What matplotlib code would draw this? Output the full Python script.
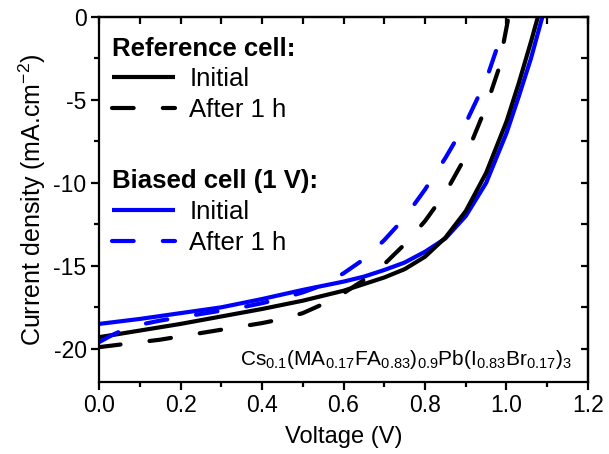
import matplotlib
matplotlib.use("Agg")
import matplotlib.pyplot as plt
from matplotlib.lines import Line2D

plt.rcParams['font.family'] = ['Liberation Sans', 'DejaVu Sans']
plt.rcParams['mathtext.default'] = 'regular'

# Data (Voltage in V, current density in mA/cm^2)
ref_init_v = [0, 0.05, 0.1, 0.2, 0.3, 0.4, 0.5, 0.55, 0.6, 0.65, 0.7, 0.75, 0.8, 0.85, 0.9, 0.95, 1.0, 1.03, 1.06, 1.077]
ref_init_j = [-19.3, -19.1, -18.9, -18.5, -18.05, -17.6, -17.1, -16.8, -16.5, -16.1, -15.7, -15.2, -14.45, -13.3, -11.7, -9.4, -6.3, -4.0, -1.5, 0]

ref_1h_v = [0, 0.05, 0.1, 0.15, 0.2, 0.25, 0.3, 0.35, 0.4, 0.45, 0.5, 0.55, 0.6, 0.65, 0.7, 0.75, 0.8, 0.85, 0.9, 0.95, 0.98, 1.005]
ref_1h_j = [-19.9, -19.75, -19.6, -19.45, -19.25, -19.05, -18.85, -18.65, -18.45, -18.2, -17.85, -17.3, -16.65, -15.85, -14.9, -13.7, -12.3, -10.6, -8.4, -5.4, -3.2, 0]

bias_init_v = [0, 0.05, 0.1, 0.2, 0.3, 0.4, 0.5, 0.55, 0.6, 0.65, 0.7, 0.75, 0.8, 0.85, 0.9, 0.95, 1.0, 1.03, 1.06, 1.088]
bias_init_j = [-18.5, -18.35, -18.2, -17.85, -17.5, -17.0, -16.45, -16.2, -15.95, -15.65, -15.25, -14.8, -14.15, -13.35, -12.0, -10.0, -7.0, -4.8, -2.5, 0]

bias_1h_v = [0, 0.03, 0.06, 0.1, 0.15, 0.2, 0.25, 0.3, 0.35, 0.4, 0.45, 0.5, 0.55, 0.6, 0.65, 0.7, 0.75, 0.8, 0.85, 0.9, 0.95, 0.99]
bias_1h_j = [-19.6, -19.2, -18.85, -18.55, -18.3, -18.1, -17.9, -17.7, -17.5, -17.25, -16.95, -16.6, -16.15, -15.45, -14.6, -13.45, -12.1, -10.4, -8.5, -6.4, -3.8, -0.9]

xticks = [0.0, 0.2, 0.4, 0.6, 0.8, 1.0, 1.2]
xminor = [0.1, 0.3, 0.5, 0.7, 0.9, 1.1]
yticks = [0, -5, -10, -15, -20]
yminor = [-2.5, -7.5, -12.5, -17.5]

BLUE = '#0000FF'
LW = 3.0
DASH = (5.2, 7.0)

fig = plt.figure(figsize=(6.09, 4.54), dpi=100)
ax = fig.add_axes([0.1626, 0.1586, 0.8029, 0.804])

ax.plot(bias_init_v, bias_init_j, color=BLUE, lw=LW, solid_capstyle='butt')
ax.plot(ref_init_v, ref_init_j, color='black', lw=LW, solid_capstyle='butt')
ax.plot(bias_1h_v, bias_1h_j, color=BLUE, lw=LW, dashes=DASH, dash_capstyle='round')
ax.plot(ref_1h_v, ref_1h_j, color='black', lw=LW, dashes=DASH, dash_capstyle='round')

ax.set_xlim(0, 1.2)
ax.set_ylim(-22, 0)
ax.set_xticks(xticks)
ax.set_xticklabels([f"{t:.1f}" for t in xticks])
ax.set_yticks(yticks)
ax.set_yticklabels([f"{t:d}" for t in yticks])
ax.set_xticks(xminor, minor=True)
ax.set_yticks(yminor, minor=True)

for s in ax.spines.values():
    s.set_linewidth(1.6)
ax.tick_params(which='major', direction='out', length=6, width=1.6, labelsize=16.5, pad=3)
ax.tick_params(which='minor', direction='out', length=3.5, width=1.6)

# mirror ticks (inward) on top and right
sx = ax.secondary_xaxis('top')
sx.set_xticks(xticks)
sx.set_xticks(xminor, minor=True)
sx.tick_params(which='both', direction='in', length=5, width=1.6, labeltop=False)
sy = ax.secondary_yaxis('right')
sy.set_yticks(yticks)
sy.set_yticks(yminor, minor=True)
sy.tick_params(which='both', direction='in', length=5, width=1.6, labelright=False)
sx.spines['top'].set_linewidth(1.6)
sy.spines['right'].set_linewidth(1.6)

ax.set_xlabel('Voltage (V)', fontsize=17, labelpad=6)
ax.set_ylabel('Current density (mA.cm$^{-2}$)', fontsize=18, labelpad=4)

ax.text(0.968, 0.046,
        'Cs$_{0.1}$(MA$_{0.17}$FA$_{0.83}$)$_{0.9}$Pb(I$_{0.83}$Br$_{0.17}$)$_3$',
        transform=ax.transAxes, ha='right', va='baseline', fontsize=15)

h1 = [Line2D([], [], color='black', lw=LW, solid_capstyle='butt'),
      Line2D([], [], color='black', lw=LW, dashes=DASH, dash_capstyle='round')]
h2 = [Line2D([], [], color=BLUE, lw=LW, solid_capstyle='butt'),
      Line2D([], [], color=BLUE, lw=LW, dashes=DASH, dash_capstyle='round')]

common = dict(frameon=False, fontsize=18.5, handlelength=2.45, handletextpad=0.55,
              labelspacing=0.26, borderaxespad=0, borderpad=0, alignment='left',
              title_fontproperties={'weight': 'bold', 'size': 18.5})
leg1 = ax.legend(h1, ['Initial', 'After 1 h'], title='Reference cell:',
                 loc='upper left', bbox_to_anchor=(0.027, 0.946), **common)
ax.add_artist(leg1)
leg2 = ax.legend(h2, ['Initial', 'After 1 h'], title='Biased cell (1 V):',
                 loc='upper left', bbox_to_anchor=(0.027, 0.583), **common)

fig.savefig('out.png', dpi=100)
